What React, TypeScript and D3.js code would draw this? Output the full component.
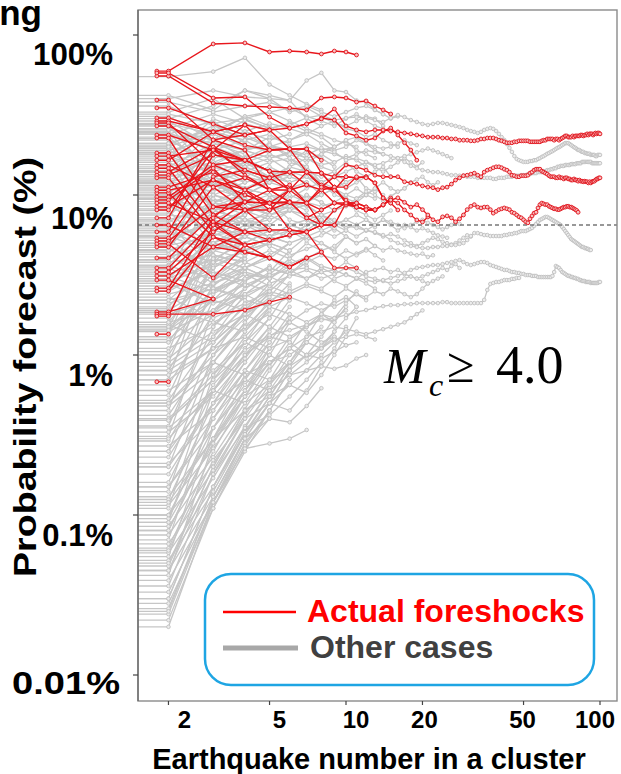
import React from "react";
import * as d3 from "d3";

// ---------------- DATA (percent values; index 0 is earthquake number 2) ----------------
const firstN = 2;
const redStubN = 1.8;
const grayStubN = 1;
const baselineRate = 6.5;

const yTickValues = [100, 10, 1, 0.1, 0.01];
const yTickLabels = ["100%", "10%", "1%", "0.1%", "0.01%"];
const xTickValues = [2, 5, 10, 20, 50, 100];
const xTickLabels = ["2", "5", "10", "20", "50", "100"];

const redLong1 = [
  57.9, 40.4, 41.0, 30.7, 26.2, 27.8, 29.9, 34.5, 27.0, 25.5,
  24.8, 25.5, 25.5, 25.1, 24.8, 24.4, 24.1, 23.7, 23.4, 23.0,
  23.0, 23.0, 22.7, 22.7, 22.4, 22.4, 22.0, 22.0, 22.0, 21.8,
  21.8, 22.0, 22.4, 22.4, 22.7, 22.7, 22.7, 22.4, 22.0, 21.8,
  21.5, 21.2, 21.2, 21.2, 21.5, 21.5, 21.8, 21.8, 21.8, 21.8,
  21.8, 21.5, 21.5, 21.5, 21.5, 21.5, 21.5, 21.8, 22.0, 22.0,
  22.4, 22.4, 22.4, 22.4, 22.0, 22.4, 22.4, 22.0, 22.4, 22.7,
  23.0, 23.4, 23.4, 23.0, 23.0, 23.0, 23.4, 23.0, 23.4, 23.4,
  23.4, 23.4, 23.7, 23.7, 23.4, 23.7, 23.7, 24.1, 23.7, 24.1,
  24.1, 24.1, 23.7, 24.1, 24.4, 24.1, 24.4, 24.4, 24.1,
];
const redLong2 = [
  17.5, 19.1, 16.5, 14.1, 13.9, 13.9, 13.7, 13.0, 15.4, 15.0,
  14.3, 13.3, 13.0, 13.0, 13.0, 12.1, 11.9, 11.7, 11.4, 11.2,
  11.1, 10.8, 11.1, 11.2, 11.7, 12.4, 12.8, 13.2, 13.3, 13.5,
  13.7, 13.3, 13.0, 13.9, 14.3, 14.5, 14.8, 15.0, 15.0, 14.8,
  14.5, 14.3, 13.9, 13.3, 13.2, 13.0, 13.0, 13.2, 13.2, 13.2,
  13.3, 13.7, 13.9, 14.3, 14.5, 14.5, 14.5, 14.1, 13.9, 13.7,
  13.5, 13.2, 13.0, 13.0, 13.0, 12.8, 12.8, 13.0, 12.8, 12.8,
  12.6, 12.8, 12.8, 12.6, 12.6, 12.4, 12.4, 12.6, 12.4, 12.4,
  12.2, 12.4, 12.2, 12.2, 12.1, 12.2, 12.1, 12.1, 11.9, 12.1,
  11.9, 12.1, 12.2, 12.2, 12.4, 12.6, 12.6, 12.8, 12.8,
];
const redLong3 = [
  10.7, 12.4, 10.0, 8.9, 9.0, 8.9, 11.2, 10.7, 9.3, 8.4,
  8.1, 8.1, 8.7, 9.3, 9.6, 9.0, 8.4, 8.7, 8.1, 7.5,
  7.0, 6.8, 7.3, 7.4, 7.2, 6.8, 7.1, 7.5, 8.1, 8.5,
  8.7, 8.4, 8.3, 8.4, 8.4, 8.1, 7.7, 7.9, 8.1, 8.2,
  8.3, 8.2, 8.1, 7.8, 7.7, 7.5, 7.3, 7.2, 7.0, 6.8,
  6.7, 7.1, 7.4, 7.7, 7.8, 8.3, 8.7, 8.9, 8.8, 8.7,
  8.7, 8.5, 8.4, 8.3, 8.2, 8.2, 8.1, 8.1, 8.2, 8.3,
  8.4, 8.4, 8.5, 8.5, 8.4, 8.4, 8.3, 8.2, 8.1, 8.0,
  7.8,
];
const redShort = [
  [59.5, 87.9, 89.2, 78.3, 79.4, 78.3, 76.1, 79.4, 78.3, 75.0],
  [55.4, 37.6, 36.0, 35.5, 35.0, 34.0, 40.4, 41.0, 40.4, 38.1, 38.7, 36.0, 34.0, 32.1],
  [39.2, 22.1, 19.1, 10.75, 9.04, 8.91, 8.06, 8.91],
  [35.0, 27.8, 23.7, 25.5, 19.4, 13.9, 11.2, 13.0, 13.0, 12.8, 13.0, 11.9, 9.58, 8.91],
  [30.3, 24.8, 27.4, 19.1, 19.4, 19.4, 13.7, 11.2, 8.91, 8.42, 8.06, 8.06, 8.66, 9.58],
  [29.0, 24.8, 27.4, 25.5, 26.2, 27.8, 30.3, 29.4, 24.4, 23.4, 22.0, 22.7, 25.1, 26.2, 23.7, 21.2, 19.1, 16.5],
  [28.2, 15.4, 12.8, 10.75, 10.75, 11.55, 10.75, 11.2, 8.91, 8.42, 8.06, 8.06],
  [27.0, 19.9, 16.5, 14.1, 10.75, 13.9, 11.55, 10.75, 13.0, 12.8, 13.0, 11.9, 9.58, 8.91, 8.06],
  [23.7, 19.1, 14.3, 12.8, 10.75, 8.91, 6.49, 6.49],
  [22.7, 8.42, 9.04, 8.91, 9.04, 7.19, 8.06, 8.91, 8.91, 8.42, 8.06, 8.06, 8.66, 9.31, 8.91, 8.06, 7.5, 6.98, 6.78, 7.29],
  [18.3, 7.5, 5.88, 5.23, 5.62, 5.88, 4.4, 3.5, 3.5, 3.5],
  [16.5, 24.8, 20.5, 19.1, 19.4, 19.4, 16.5],
  [15.4, 11.2, 8.06, 8.91, 6.04, 5.88],
  [14.7, 6.49, 4.87, 4.04, 3.55, 4.04],
  [13.9, 19.9, 13.3, 10.75, 11.55, 8.91, 10.75, 8.91, 8.66, 8.42],
  [13.3, 17.8, 16.5, 14.1, 13.9, 11.55],
  [12.8, 5.88, 8.06, 6.04, 6.04, 5.88, 6.49],
  [11.2, 13.9, 10.75, 12.8],
  [10.3, 5.46, 4.4, 4.04, 3.55, 4.04, 4.4],
  [9.72, 15.4, 16.5, 19.1, 19.4],
  [9.31, 14.7, 9.04, 8.91, 9.04],
  [8.91, 6.78, 4.87, 5.23, 5.62, 5.88, 6.49, 8.06, 8.91, 8.91, 8.42, 8.06],
  [8.42, 12.4, 10.75, 8.91, 10.75],
  [8.06, 19.1, 27.4],
  [7.19, 22.1, 23.7, 25.5],
  [6.49, 4.73, 5.88, 6.04],
  [5.88, 17.8, 16.5],
  [5.38, 13.0, 14.3, 12.8, 13.9, 13.9, 13.7, 11.2, 11.2, 13.0, 12.8],
  [5.16, 8.42, 8.06, 8.06, 9.04],
  [4.95, 3.03, 4.87, 5.23],
  [4.73, 11.2, 12.8],
  [4.04, 7.5, 9.04, 10.75, 9.04, 7.19, 6.49, 6.49, 8.91, 8.91, 8.42],
  [3.5, 6.78, 5.88],
  [3.3, 5.88, 8.06],
  [3.12, 4.73, 4.4, 4.04],
  [2.94, 2.24],
  [2.62, 7.19, 10.75, 8.06, 10.75],
  [2.51, 5.46, 4.87],
  [1.86, 2.24],
  [1.8, 1.8, 1.91, 2.14, 2.3],
  [1.75, 6.49, 9.04],
  [1.35],
  [0.68],
];

const grayLong1 = [
  25.5, 22.1, 29.4, 26.2, 27.4, 30.3, 31.6, 29.4, 30.3, 30.7,
  30.3, 29.4, 28.6, 30.3, 31.6, 30.7, 29.4, 28.6, 27.8, 27.4,
  27.8, 28.2, 28.2, 27.8, 27.4, 27.0, 26.6, 26.2, 25.5, 25.1,
  24.8, 24.4, 24.8, 25.5, 25.9, 26.2, 25.9, 25.1, 24.1, 23.0,
  22.1, 20.8, 19.7, 18.6, 17.5, 16.8, 16.5, 16.3, 16.1, 16.1,
  16.1, 16.3, 16.3, 16.5, 16.5, 16.8, 17.0, 17.3, 17.5, 17.8,
  18.1, 18.3, 18.6, 18.8, 19.1, 19.4, 19.7, 19.9, 20.2, 20.5,
  20.8, 21.1, 21.1, 21.1, 20.8, 20.5, 20.2, 19.9, 19.7, 19.4,
  19.1, 19.1, 18.8, 18.6, 18.6, 18.3, 18.3, 18.1, 18.1, 18.1,
  17.8, 17.8, 17.8, 17.8, 17.5, 17.5, 17.8, 17.8, 17.8,
];
const grayLong2 = [
  12.4, 15.4, 19.1, 20.5, 19.1, 17.8, 19.7, 18.6, 16.5, 17.0,
  16.1, 15.4, 15.8, 16.5, 17.0, 16.1, 15.2, 14.7, 14.3, 14.1,
  13.9, 13.9, 13.7, 13.5, 13.3, 13.3, 13.2, 13.2, 13.0, 13.0,
  13.0, 12.8, 12.8, 12.8, 12.8, 12.8, 12.6, 12.6, 12.8, 12.8,
  12.8, 13.0, 13.0, 13.0, 13.2, 13.2, 13.2, 13.3, 13.3, 13.3,
  13.5, 13.5, 13.7, 13.7, 13.7, 13.9, 13.9, 13.9, 14.1, 14.1,
  14.3, 14.3, 14.5, 14.5, 14.7, 14.7, 15.0, 15.0, 15.2, 15.2,
  15.2, 15.4, 15.4, 15.4, 15.4, 15.6, 15.6, 15.6, 15.6, 15.8,
  15.8, 15.8, 15.8, 16.1, 16.1, 16.1, 16.1, 16.1, 16.1, 16.1,
  16.1, 15.8, 15.8, 15.8, 15.8, 15.8, 15.8, 15.8, 15.8,
];
const grayLong3 = [
  3.92, 6.04, 7.5, 9.31, 8.06, 8.66, 7.5, 6.98, 6.49, 6.22,
  6.04, 5.87, 5.62, 5.23, 5.01, 4.87, 4.8, 4.73, 4.66, 4.66,
  4.73, 4.73, 4.8, 4.8, 4.87, 4.87, 4.94, 5.01, 5.23, 5.54,
  5.78, 5.78, 5.7, 5.62, 5.62, 5.54, 5.54, 5.54, 5.54, 5.54,
  5.62, 5.62, 5.7, 5.7, 5.78, 5.78, 5.87, 5.95, 5.95, 5.95,
  6.04, 6.13, 6.22, 6.4, 6.59, 6.78, 6.98, 7.08, 7.19, 7.29,
  7.29, 7.19, 7.08, 6.98, 6.88, 6.78, 6.68, 6.59, 6.49, 6.31,
  6.13, 5.95, 5.78, 5.62, 5.46, 5.31, 5.23, 5.16, 5.08, 5.01,
  4.94, 4.87, 4.8, 4.73, 4.73, 4.66, 4.66, 4.6, 4.6, 4.53, 4.53,
];
const grayLong4 = [
  1.43, 2.21, 2.74, 3.16, 3.4, 3.5, 3.3, 3.4, 3.16, 3.03,
  2.94, 2.86, 2.94, 3.03, 3.12, 3.26, 3.4, 3.5, 3.55, 3.6,
  3.65, 3.65, 3.7, 3.76, 3.81, 3.87, 3.92, 3.81, 3.7, 3.65,
  3.7, 3.76, 3.81, 3.81, 3.76, 3.65, 3.6, 3.55, 3.5, 3.45,
  3.4, 3.4, 3.35, 3.3, 3.3, 3.26, 3.26, 3.21, 3.21, 3.16,
  3.16, 3.16, 3.12, 3.12, 3.12, 3.07, 3.07, 3.07, 3.07, 3.07,
  3.07, 3.07, 3.07, 3.12, 3.3, 3.6, 3.55, 3.5, 3.4, 3.3,
  3.26, 3.21, 3.16, 3.12, 3.12, 3.07, 3.07, 3.03, 3.03, 2.99,
  2.99, 2.94, 2.94, 2.9, 2.9, 2.9, 2.86, 2.86, 2.86, 2.86,
  2.82, 2.82, 2.82, 2.82, 2.82, 2.82, 2.82, 2.86, 2.86,
];
const grayLong5 = [
  0.39, 0.7, 1.07, 1.33, 1.43, 1.54, 1.65, 1.7, 1.78, 1.86,
  1.91, 1.97, 2.02, 2.05, 2.05, 2.08, 2.08, 2.11, 2.11, 2.11,
  2.11, 2.11, 2.14, 2.14, 2.11, 2.11, 2.11, 2.11, 2.11, 2.11,
  2.11, 2.11, 2.11, 2.21, 2.55, 2.78, 2.82, 2.86, 2.86, 2.9,
  2.94, 2.94, 2.94, 2.99, 2.99, 3.03, 3.03,
];

const grayHigh = [
  [55, 59, 72, 49, 42, 37, 34],
  [42, 34, 45, 42, 39, 52, 58, 45, 44, 39, 38, 34, 32],
  [40, 45, 41, 40, 39, 30, 27],
  [36, 27, 24, 20, 19, 17, 18, 16],
  [33, 40, 30, 26, 28, 25],
  [31, 22, 19, 23, 21],
  [30, 36, 45, 40, 33, 35, 31, 28, 27, 29, 31, 30, 27],
  [29, 20, 15, 17, 14],
  [28, 24, 31, 27, 22, 25, 23, 20],
  [27.5, 13, 11, 12],
];

const grayMid = [
  [27, 18, 15], [26, 32, 28, 25], [25, 12, 10], [24.5, 19, 22, 18, 16, 15],
  [24, 29, 21], [23, 14], [22.5, 25, 31, 33, 29, 26, 24, 22, 21, 20],
  [22, 16, 12, 13], [21, 9, 7.5], [20.5, 27, 24], [20, 17, 19, 21, 17, 15],
  [19.5, 11], [19, 22, 17, 14, 12, 13, 11], [18.5, 8, 9, 10], [18, 24, 20],
  [17.5, 14, 16, 13, 12], [17, 30, 25, 22, 24], [16.5, 6.5, 5.5],
  [16, 19, 14, 16, 17, 14, 13, 14, 12], [15.5, 10, 12], [15, 21, 18, 16],
  [14.6, 12, 9, 8, 8.5, 7.5], [14.2, 17], [13.8, 8.5, 10, 9, 11, 12, 10],
  [13.4, 25, 20, 19], [13, 15, 13, 12, 14, 13, 12, 13, 11, 12, 13],
  [12.6, 6, 7], [12.2, 10.5, 13, 15, 13], [11.8, 18, 15], [11.5, 7.5, 6.5, 7, 8],
  [11.2, 13, 16, 18, 16, 19, 17, 15], [10.9, 4.8, 5.5], [10.6, 12, 9],
  [10.3, 9, 11, 10, 9.5, 11, 12, 10, 9.5], [10, 20, 17], [9.7, 6.5, 8, 7],
  [9.4, 11.5, 10, 12, 13, 12], [9.1, 14, 12], [8.8, 5.6, 6, 5],
  [8.5, 9.5, 8, 9, 10, 9, 8.5, 9, 10, 11, 10, 9.5], [8.2, 12, 15, 13],
  [8, 4.2, 3.8], [7.7, 10, 9], [7.5, 7, 8.5, 7.5, 6.5, 7, 6, 6.5],
  [7.2, 16, 14, 12], [7, 5, 6, 5.5, 5], [6.8, 9, 11, 10, 8.5], [6.6, 3.5],
  [6.4, 7.5, 6.5, 8, 9, 8], [6.2, 11, 9.5], [6, 4.5, 5, 6, 5.5, 6.5, 7, 6],
  [5.8, 8, 7], [5.6, 6.5, 8, 9.5, 8.5, 10, 9, 8], [5.4, 3.2, 4],
  [5.2, 7, 6, 7.5], [5, 13, 11], [4.85, 5.5, 4.5, 5, 6, 5.5], [4.7, 9, 8],
  [4.55, 3.8, 4.5, 5.5, 5], [4.4, 6, 7, 6.5, 8, 7.5, 7], [4.25, 2.8],
  [4.1, 5, 6.5, 6], [3.95, 8, 9, 7.5], [3.8, 4.2, 3.8, 4.5, 4, 5, 4.5, 4.8, 5.5, 5],
  [3.65, 6.5, 5.5], [3.5, 2.6, 3, 3.5], [3.4, 5, 4.5, 5.5, 6.5, 6], [3.3, 10, 8.5],
  [3.2, 4, 3.5, 4.2], [3.1, 2.5, 3.2, 3, 3.6, 4, 3.5], [3, 5.5, 7, 6],
  [2.9, 3.6, 4.5, 4, 5, 5.5, 5, 4.5, 5.5], [2.8, 2.1, 2.4], [2.7, 4.5, 4],
  [2.6, 3.3, 2.9, 3.5, 3.2, 4, 4.5], [2.5, 6, 5.5, 6.5], [2.4, 2.8, 3.5, 3],
  [2.3, 1.7, 2.1, 2.5, 2.3], [2.2, 3.8, 4.5, 5, 4.5, 5.5, 6, 5.5, 6],
  [2.1, 2.6, 2.3], [2, 4, 3.5, 4.2, 5], [1.95, 1.6, 2], [1.9, 2.8, 3.3, 3, 3.8],
  [1.85, 5, 4.2], [1.8, 2.2, 2.8, 2.5, 3.2, 3, 3.5, 3.2], [1.7, 3.2, 2.7],
];

const grayMesh = [
  [32, 28, 30, 33, 35, 31, 29, 27, 30, 32, 29, 27, 26],
  [26, 22, 25, 28, 26, 24, 27, 29, 26, 25, 23, 24, 22, 21, 20],
  [21, 26, 23, 20, 22, 24, 21, 19, 20, 22, 21, 19, 18],
  [18, 15, 17, 20, 18, 16, 18, 20, 22, 19, 18, 17],
  [16, 12, 14, 12, 15, 17, 15, 14, 16, 14, 13, 14, 15, 13],
  [14, 18, 16, 14, 13, 15, 12, 11, 12, 13, 11, 10.5],
  [12, 9, 10, 12, 11, 9.5, 10, 11, 9.5, 9, 10, 11, 10],
  [10, 12, 9.5, 8, 9, 8.5, 7.5, 8, 9, 8, 7.5, 7, 7.5, 8],
  [8.5, 6.5, 7.5, 9, 7, 6.5, 7.5, 6.8, 6.2, 6.5, 7, 6.3],
  [7, 8.5, 6.5, 5.5, 6, 5.2, 5.6, 6.2, 5.5, 5, 5.3, 4.8],
  [5.5, 4.5, 5.5, 4.8, 4.2, 4.6, 5, 4.4, 4, 4.3, 4.6, 4.2, 3.9],
  [4.5, 5.8, 4.9, 4, 3.7, 4.1, 3.6, 3.4, 3.8, 3.5, 3.2],
  [3.6, 3, 3.5, 4, 3.4, 3, 3.3, 2.9, 2.7, 3, 2.8, 2.6],
  [2.8, 3.8, 3.2, 2.7, 2.4, 2.7, 2.5, 2.3, 2.6, 2.4, 2.2],
  [2.2, 2.6, 2.2, 2, 2.3, 2.1, 1.9, 2.1, 2.3, 2],
  [1.6, 1.9, 2.4, 2, 1.8, 1.6, 1.8, 1.7, 1.9],
  [0.9, 1.4, 1.8, 1.5, 1.3, 1.5, 1.7, 1.6],
  [0.5, 1, 1.5, 1.8, 1.6, 1.4, 1.2, 1.3, 1.15],
  [38, 33, 36, 38, 34, 36, 33, 31, 33, 35, 36, 34, 32, 30, 31],
  [0.25, 0.6, 1, 1.3, 1.2, 1, 0.95, 1.05, 1.15, 1.2],
  [24, 21, 19, 17, 18.5, 17, 15.5, 16, 17.5, 16.5, 15],
  [9.5, 8, 7, 7.5, 8.5, 10, 9, 8, 8.5, 9.5, 10.5, 10, 9.2, 9.8, 10.5, 11],
];

const grayLowLong = [
  [0.12, 0.3, 0.45, 0.55, 0.65, 0.8, 1.0, 1.2, 1.4],
  [0.2, 0.5, 0.7, 0.6, 0.75, 0.9, 1.1, 1.3],
  [0.35, 0.6, 0.5, 0.65, 0.9, 1.2, 1.5],
  [0.06, 0.22, 0.4, 0.5, 0.45, 0.6, 0.85, 1.1, 1.5],
  [0.045, 0.18, 0.35, 0.42, 0.55, 0.7, 0.9],
  [0.15, 0.4, 0.8, 0.7, 0.9, 1.3, 1.8, 2.2],
  [0.03, 0.15, 0.32, 0.5, 0.65, 0.58, 0.75, 1.0, 1.3, 1.7],
  [0.5, 0.9, 0.75, 0.9, 1.0, 1.2, 1.1, 1.4, 1.7, 2.0],
  [0.09, 0.28, 0.55, 0.9, 1.1, 0.95, 1.15, 1.4],
  [0.7, 1.1, 1.3, 1.1, 1.25, 1.5, 1.8, 1.6, 2.0],
  [0.025, 0.13, 0.3, 0.4, 0.38, 0.48, 0.62],
  [0.4, 0.75, 1.2, 1.0, 0.85, 1.0, 1.3, 1.7, 2.1, 2.5],
];

const grayMidLong = [
  [12, 14, 11, 13, 15, 14, 12, 13, 14, 15, 16, 15, 14, 15, 16, 17, 16, 15, 16],
  [6, 8, 9, 7.5, 8.5, 9, 10, 11, 10, 9.5, 10, 11, 12, 11, 10.5, 11, 12, 12.5, 13, 12, 11.5, 12],
  [3, 4, 5, 6, 5.5, 6.5, 7, 6.5, 7, 7.5, 7, 6.5, 7, 6.5, 6, 6.5, 6.3, 6, 6.2, 6, 5.8, 5.6, 5.5, 5.4],
  [1.5, 2.5, 3, 3.5, 3.2, 3.8, 4.2, 4, 4.5, 4.2, 4.5, 4.8, 4.5, 4.7, 4.5, 4.4, 4.3, 4.2, 4.3, 4.1, 4.2],
  [0.8, 1.2, 1.8, 2.2, 2.5, 2.8, 2.6, 3, 3.2, 3, 3.3, 3.4, 3.5, 3.3, 3.4, 3.2, 3.1, 3, 3.1, 3.2, 3.3, 3.4, 3.5, 3.4, 3.6, 3.7, 3.5],
  [0.3, 0.6, 1, 1.3, 1.6, 1.9, 2.1, 2, 2.2, 2.4, 2.3, 2.5, 2.4, 2.6, 2.5, 2.4, 2.3, 2.4, 2.6, 2.8, 2.9, 3, 3.1],
  [14, 16, 19, 17, 18, 20, 19, 18, 17, 18, 19, 18.5, 18, 17.5, 17, 17.5, 18, 18.5, 19, 19.5, 19, 18.5, 18, 17.5, 17],
  [5, 7, 6, 7.5, 8, 7, 7.5, 6.5, 7, 6.5, 6, 5.8, 5.5, 5.7, 5.5, 5.2, 5, 4.8, 5, 5.2, 5.4, 5.3, 5.1, 5, 4.9, 5, 5.2, 5.4, 5.6, 5.5],
  [0.1, 0.35, 0.6, 0.9, 1.1, 1.3, 1.4, 1.5, 1.45, 1.4, 1.35, 1.4, 1.45, 1.5, 1.55, 1.6, 1.7, 1.8, 1.9],
  [0.05, 0.2, 0.45, 0.6, 0.75, 0.8, 0.85, 0.82, 0.86, 0.95, 1.0],
  [0.02, 0.12, 0.26, 0.28, 0.3, 0.34],
  [0.08, 0.3, 0.55, 0.7, 0.8, 1.0, 1.1, 1.25, 1.3, 1.35, 1.3, 1.25],
  [1.2, 1.8, 2.4, 2.8, 3.1, 3.4, 3, 3.2, 3.5, 3.3, 3.1, 3, 2.9, 2.8, 2.9, 3, 3.1, 3, 2.9, 2.8],
  [2.5, 3.5, 4.5, 5.5, 6.5, 6, 7, 6.5, 6, 5.5, 6, 6.5, 7, 6.8, 6.5, 6.2, 6.5, 6.8, 7, 6.7, 6.5, 6.3, 6.1, 6.3, 6.5, 6.7, 6.6],
  [20, 25, 22, 24, 20, 21, 19, 20, 22, 23, 21, 20, 19.5, 20, 21, 22, 21, 20.5],
];

const grayLow = [
  [1.6, 3.5, 4.5, 4], [1.55, 1.2, 1.8, 2.2], [1.5, 4.5, 6], [1.45, 2.5, 3.5, 3],
  [1.4, 1.9, 2.6, 3.2, 4, 3.6], [1.3, 6, 7.5], [1.25, 2.2, 1.9, 2.5], [1.2, 3, 4.2, 5, 4.5],
  [1.1, 1.5, 2.3, 2.8], [1.05, 5, 4.5], [1, 2.7, 3.8, 3.3, 4.5], [0.95, 1.6, 1.4, 2],
  [0.9, 3.8, 5.5, 4.8], [0.85, 1.3, 2, 2.6, 3.5], [0.8, 2.4, 3.2], [0.75, 1.1, 1.8, 2.4, 2.2],
  [0.7, 4.2, 3.8], [0.65, 1.8, 2.9, 3.6], [0.6, 0.9, 1.5, 2.1, 2.8], [0.56, 2.2, 3.4],
  [0.52, 1.3, 2.4, 3.1, 2.7], [0.48, 0.8, 1.2, 1.7], [0.45, 2.9, 4], [0.42, 1.1, 1.7, 2.3, 3.2],
  [0.39, 0.7, 1.3, 1.9], [0.36, 1.5, 2.6, 3.3], [0.33, 0.55, 0.95, 1.5, 2.2], [0.31, 1.9, 3],
  [0.29, 0.9, 1.6, 2.5], [0.27, 0.45, 0.8, 1.2, 1.8], [0.25, 1.2, 2.1], [0.23, 0.65, 1.1, 1.7, 2.6],
  [0.21, 0.4, 0.7, 1.1], [0.2, 1, 1.9, 2.8], [0.18, 0.5, 0.9, 1.4, 2],
];

const grayVeryLow = [
  [0.16, 0.6, 1.2, 2], [0.15, 0.35, 0.65, 1, 1.6], [0.14, 0.9, 1.6], [0.13, 0.3, 0.6, 1.1, 1.7],
  [0.125, 0.5, 1, 1.5], [0.115, 0.26, 0.5, 0.85, 1.3], [0.11, 0.75, 1.4, 2.2], [0.1, 0.23, 0.46, 0.8, 1.2],
  [0.095, 0.4, 0.8, 1.3], [0.09, 0.6, 1.1], [0.085, 0.21, 0.42, 0.7, 1.1, 1.6], [0.08, 0.3, 0.7, 1.2],
  [0.075, 0.19, 0.4, 0.65, 1], [0.07, 0.45, 0.9], [0.066, 0.17, 0.36, 0.6, 0.9], [0.062, 0.25, 0.55, 1],
  [0.058, 0.15, 0.33, 0.55, 0.85, 1.2], [0.055, 0.35, 0.75], [0.052, 0.14, 0.32, 0.55, 0.85], [0.048, 0.2, 0.45],
  [0.045, 0.13, 0.3, 0.5, 0.8], [0.042, 0.28, 0.6, 1], [0.039, 0.12, 0.3, 0.5, 0.8], [0.036, 0.18, 0.4],
  [0.033, 0.12, 0.28, 0.45, 0.7], [0.03, 0.15, 0.35, 0.6], [0.028, 0.11, 0.27, 0.45, 0.7], [0.026, 0.13, 0.3],
  [0.024, 0.12, 0.26, 0.4], [0.022, 0.11, 0.25, 0.45],
];

// ---------------- LAYOUT ----------------
const W = 621;
const H = 774;
const P = { left: 138, right: 617, top: 10, bottom: 701 };
const FONT = "'Liberation Sans', Arial, Helvetica, sans-serif";
const SERIF = "'Liberation Serif', 'Times New Roman', serif";
const yLabelDy = [30, 34, 31, 31, 19];
const yLabelX = [113, 113, 113, 113, 120];
const yLabelLen: (number | undefined)[] = [80, undefined, undefined, undefined, 108];
const xLabelDx = [16, 10, 10, 2, -1, -5];

type Pt = [number, number];

export default function App() {
  const x = d3.scaleLog().domain([10, 100]).range([346, 600]);
  const y = d3.scaleLog().domain([1, 10]).range([355, 195]);
  const line = d3.line<Pt>().x((d) => x(d[0])).y((d) => y(d[1]));

  const pts = (vals: number[], stubN: number): Pt[] => [
    [stubN, vals[0]],
    ...vals.map((v, i) => [firstN + i, v] as Pt),
  ];

  const grayAll: number[][] = [
    ...grayVeryLow, ...grayLow, ...grayLowLong, ...grayMid, ...grayHigh, ...grayMesh, ...grayMidLong,
    grayLong5, grayLong4, grayLong3, grayLong2, grayLong1,
  ];
  const redAll: number[][] = [...redShort, redLong3, redLong2, redLong1];

  return (
    <div style={{ position: "absolute", left: 0, top: 0 }}>
      <svg width={W} height={H} viewBox={`0 0 ${W} ${H}`} style={{ display: "block", background: "#fff" }}>
        <defs>
          <clipPath id="plotClip">
            <rect x={P.left} y={P.top} width={P.right - P.left} height={P.bottom - P.top} />
          </clipPath>
        </defs>
        <rect x={0} y={0} width={W} height={H} fill="#fff" />

        <g clipPath="url(#plotClip)">
          {grayAll.map((s, i) => (
            <path key={"gl" + i} d={line(pts(s, grayStubN)) || ""} fill="none" stroke="#c6c6c6" strokeWidth={1.3} />
          ))}
          {grayAll.map((s, i) => (
            <g key={"gd" + i}>
              {s.map((v, j) => (
                <circle key={j} cx={x(firstN + j)} cy={y(v)} r={1.8} fill="#ececec" stroke="#c0c0c0" strokeWidth={0.9} />
              ))}
            </g>
          ))}
          <line x1={P.left} x2={P.right} y1={y(baselineRate)} y2={y(baselineRate)} stroke="#777" strokeWidth={1.6} strokeDasharray="4,3" />
          {redAll.map((s, i) => (
            <path key={"rl" + i} d={line(pts(s, redStubN)) || ""} fill="none" stroke="#e8161c" strokeWidth={1.35} />
          ))}
          {redAll.map((s, i) => (
            <g key={"rd" + i}>
              <circle cx={x(redStubN)} cy={y(s[0])} r={1.9} fill="#f8c0c0" stroke="#e01018" strokeWidth={0.9} />
              {s.map((v, j) => (
                <circle key={j} cx={x(firstN + j)} cy={y(v)} r={1.9} fill="#f8c0c0" stroke="#e01018" strokeWidth={0.9} />
              ))}
            </g>
          ))}
        </g>

        {/* frame */}
        <rect x={P.left} y={P.top} width={P.right - P.left} height={P.bottom - P.top} fill="none" stroke="#8a8a8a" strokeWidth={1.4} />
        <line x1={P.left} x2={P.left} y1={P.top} y2={P.bottom} stroke="#555" strokeWidth={1} />

        {/* y ticks */}
        {yTickValues.map((v, i) => (
          <g key={"yt" + i}>
            <line x1={P.left - 5} x2={P.left} y1={y(v)} y2={y(v)} stroke="#444" strokeWidth={1.2} />
            <text
              x={yLabelX[i]}
              y={y(v) + yLabelDy[i]}
              textAnchor="end"
              fontFamily={FONT}
              fontWeight="bold"
              fontSize={31}
              textLength={yLabelLen[i]}
              lengthAdjust={yLabelLen[i] ? "spacingAndGlyphs" : undefined}
              fill="#000"
            >
              {yTickLabels[i]}
            </text>
          </g>
        ))}

        {/* x ticks */}
        {xTickValues.map((v, i) => (
          <g key={"xt" + i}>
            <line x1={x(v)} x2={x(v)} y1={P.bottom} y2={P.bottom + 4} stroke="#444" strokeWidth={1.2} />
            <text x={x(v) + xLabelDx[i]} y={728} textAnchor="middle" fontFamily={FONT} fontWeight="bold" fontSize={24} fill="#000">
              {xTickLabels[i]}
            </text>
          </g>
        ))}

        {/* axis titles */}
        <text x={369} y={769} textAnchor="middle" fontFamily={FONT} fontWeight="bold" fontSize={29} fill="#000">
          Earthquake number in a cluster
        </text>
        <text
          transform="translate(36,367) rotate(-90)"
          textAnchor="middle"
          fontFamily={FONT}
          fontWeight="bold"
          fontSize={32}
          textLength={420}
          lengthAdjust="spacingAndGlyphs"
          fill="#000"
        >
          Probability forecast (%)
        </text>

        {/* cut-off title fragment */}
        <text x={42} y={25} textAnchor="end" fontFamily={FONT} fontWeight="bold" fontSize={35} fill="#000">
          ng
        </text>

        {/* magnitude annotation */}
        <text x={384} y={383} fontFamily={SERIF} fontSize={50} fontStyle="italic" fill="#000">
          M
        </text>
        <text x={429} y={396} fontFamily={SERIF} fontSize={32} fontStyle="italic" fill="#000">
          c
        </text>
        <text x={447} y={382} fontFamily={SERIF} fontSize={50} fill="#000">
          ≥
        </text>
        <text x={496} y={383} fontFamily={SERIF} fontSize={54} fill="#000">
          4.0
        </text>

        {/* legend */}
        <rect x={205} y={574} width={389} height={111} rx={26} ry={26} fill="#fff" stroke="#1ea5e3" strokeWidth={2.5} />
        <line x1={223} x2={296} y1={612} y2={612} stroke="#ff0000" strokeWidth={2.5} />
        <line x1={223} x2={298} y1={648} y2={648} stroke="#a8a8a8" strokeWidth={5} />
        <text x={307} y={622} fontFamily={FONT} fontWeight="bold" fontSize={32} fill="#ff0000">
          Actual foreshocks
        </text>
        <text x={310} y={658} fontFamily={FONT} fontWeight="bold" fontSize={32} fill="#404040">
          Other cases
        </text>
      </svg>
    </div>
  );
}
